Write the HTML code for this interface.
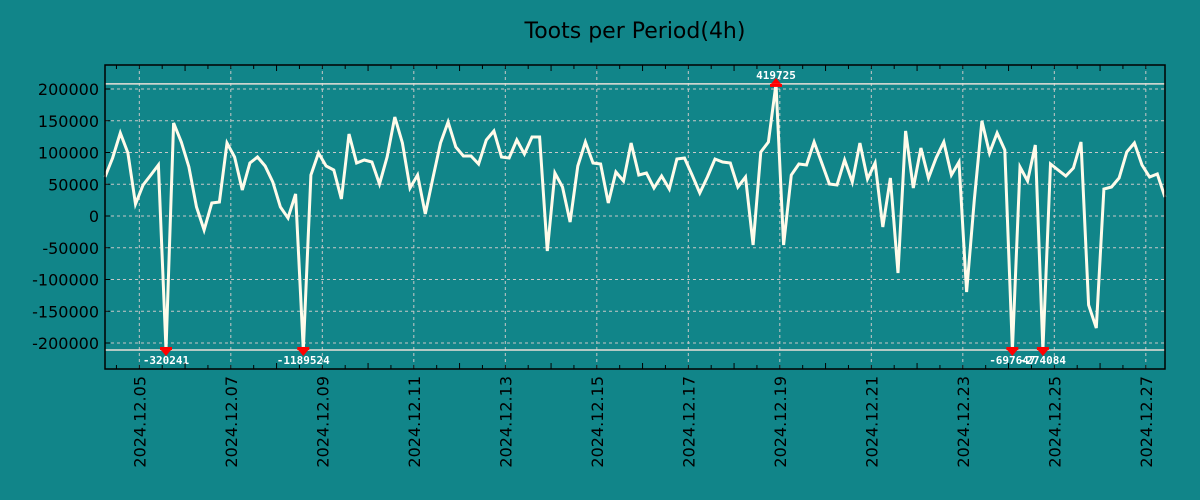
<!DOCTYPE html>
<html><head><meta charset="utf-8"><style>
html,body{margin:0;padding:0;background:#118589;}
svg{display:block;font-family:"Liberation Sans","DejaVu Sans",sans-serif;}
</style></head><body>
<svg id="chart" width="1200" height="500" viewBox="0 0 1200 500">
<rect width="1200" height="500" fill="#118589"/>
<text x="635" y="38" font-size="22" text-anchor="middle" fill="#000" font-family="DejaVu Sans, sans-serif">Toots per Period(4h)</text>
<g id="grid"></g><g id="clips"></g><g id="series"></g><g id="marks"></g><g id="axes"></g>
</svg>
<script>
const startLabel = "2024-12-04T06:00";
const stepHours = 4;
const values = [61400,91400,130700,99200,18900,48800,64600,80300,-320241,146500,116600,77200,14200,-22100,20500,22100,115000,92900,41000,83500,92900,78800,53600,14200,-3200,34700,-1189524,64600,99200,78800,72500,26800,129200,83500,88200,85100,50400,92900,155900,115000,44100,64600,3200,59900,115000,148100,108700,94500,94500,81900,119700,133900,92900,91400,119700,97700,124400,124400,-55100,67700,45700,-9500,78800,116600,83500,81900,20500,69300,55100,115000,64600,67700,44100,63000,42500,89800,91400,64600,36200,61400,89800,85100,83500,45700,61400,-45700,100800,116600,419725,-45700,64600,81900,80300,116600,83500,50400,48800,88200,53600,115000,58300,83500,-17300,59900,-89800,133900,44100,107100,59900,91400,116600,64600,85100,-119700,25200,149600,99200,130700,104000,-697647,77200,55100,111800,-274084,81900,72500,63000,75600,116600,-140200,-176400,42500,45700,59900,100800,115000,80300,61400,66200,29900];
const yTicks = [200000,150000,100000,50000,0,-50000,-100000,-150000,-200000];
const xTickLabels = ["2024.12.05","2024.12.07","2024.12.09","2024.12.11","2024.12.13","2024.12.15","2024.12.17","2024.12.19","2024.12.21","2024.12.23","2024.12.25","2024.12.27"];
const clipHigh = 208000, clipLow = -211000;

const NS="http://www.w3.org/2000/svg";
const L=105,R=1165,T=65,B=369;
const t0=new Date(startLabel+":00Z").getTime();
const pxPerHour=45.75/24;
function xOfHours(h){return L+h*pxPerHour;}
function xOfIndex(i){return xOfHours(i*stepHours);}
function xOfDate(s){const p=s.split(".");const t=Date.UTC(+p[0],+p[1]-1,+p[2]);return xOfHours((t-t0)/3600000);}
function y(v){return 216-v*127/200000;}
function mk(tag,attrs,parent){const e=document.createElementNS(NS,tag);for(const k in attrs)e.setAttribute(k,attrs[k]);parent.appendChild(e);return e;}
const grid=document.getElementById('grid'),axes=document.getElementById('axes'),series=document.getElementById('series'),marks=document.getElementById('marks'),clips=document.getElementById('clips');

yTicks.forEach(v=>{
  const yy=y(v);
  const g=mk('line',{x1:L,x2:R,y1:yy,y2:yy,stroke:'#c8c8c8','stroke-width':1,'stroke-dasharray':'3,3'},grid);
  
  
  const tk=mk('line',{x1:L,x2:L+5,y1:yy,y2:yy,stroke:'#000','stroke-width':1},axes);
  
  
  const tx=mk('text',{x:99,y:yy+6,'font-size':16,'text-anchor':'end',fill:'#000','font-family':'DejaVu Sans, sans-serif'},axes);
  tx.textContent=String(v);
  
  
});
xTickLabels.forEach(s=>{
  const xx=xOfDate(s);
  const g=mk('line',{x1:xx,x2:xx,y1:T,y2:B,stroke:'#c8c8c8','stroke-width':1,'stroke-dasharray':'3,3'},grid);
  
  
  const tx=mk('text',{x:0,y:0,'font-size':16,'text-anchor':'end',fill:'#000','font-family':'DejaVu Sans, sans-serif',transform:`translate(${xx+6},376) rotate(-90)`},axes);
  tx.textContent=s;
  
  
});
for(let h=-12;h<600;h+=12){
  const xx=xOfHours(h+6);
  if(xx<L||xx>R)continue;
  const len=(Math.round((h+6)/12)%4===0)?6:4;
  const a=mk('line',{x1:xx,x2:xx,y1:B,y2:B-len,stroke:'#000','stroke-width':1},axes);
  
  
  const b=mk('line',{x1:xx,x2:xx,y1:T,y2:T+len,stroke:'#000','stroke-width':1},axes);
  
  
}
const frame=mk('rect',{x:L,y:T,width:R-L,height:B-T,fill:'none',stroke:'#000','stroke-width':1.5},axes);


[clipHigh,clipLow].forEach(v=>{
  const c=mk('line',{x1:L,x2:R,y1:y(v),y2:y(v),stroke:'#e8e0d8','stroke-width':1.5},clips);
  
  
});
const pts=values.map((v,i)=>[xOfIndex(i),y(Math.max(clipLow,Math.min(clipHigh,v)))]);
const line=mk('polyline',{points:pts.map(p=>p[0].toFixed(1)+','+p[1].toFixed(1)).join(' '),fill:'none',stroke:'#fffbea','stroke-width':3,'stroke-linejoin':'miter'},series);


values.forEach((v,i)=>{
  if(v<=clipHigh&&v>=clipLow)return;
  const xx=xOfIndex(i);
  const g=mk('g',{},marks);
  
  
  let lbl;
  if(v>clipHigh){
    const yy=y(clipHigh);
    mk('rect',{x:xx-6,y:yy,width:12,height:3,fill:'#f00'},g);
    mk('polygon',{points:`${xx-5},${yy} ${xx+5},${yy} ${xx},${yy-6}`,fill:'#f00'},g);
    lbl=mk('text',{x:xx,y:yy-5,'font-size':11,'font-weight':'bold','text-anchor':'middle',fill:'#fff','font-family':'DejaVu Sans Mono, monospace'},g);
  } else {
    const yy=y(clipLow);
    mk('rect',{x:xx-6,y:yy-3,width:12,height:3,fill:'#f00'},g);
    mk('polygon',{points:`${xx-5},${yy} ${xx+5},${yy} ${xx},${yy+6}`,fill:'#f00'},g);
    lbl=mk('text',{x:xx,y:yy+14,'font-size':11,'font-weight':'bold','text-anchor':'middle',fill:'#fff','font-family':'DejaVu Sans Mono, monospace'},g);
  }
  lbl.textContent=String(v);
  
  
});
</script>
</body></html>
